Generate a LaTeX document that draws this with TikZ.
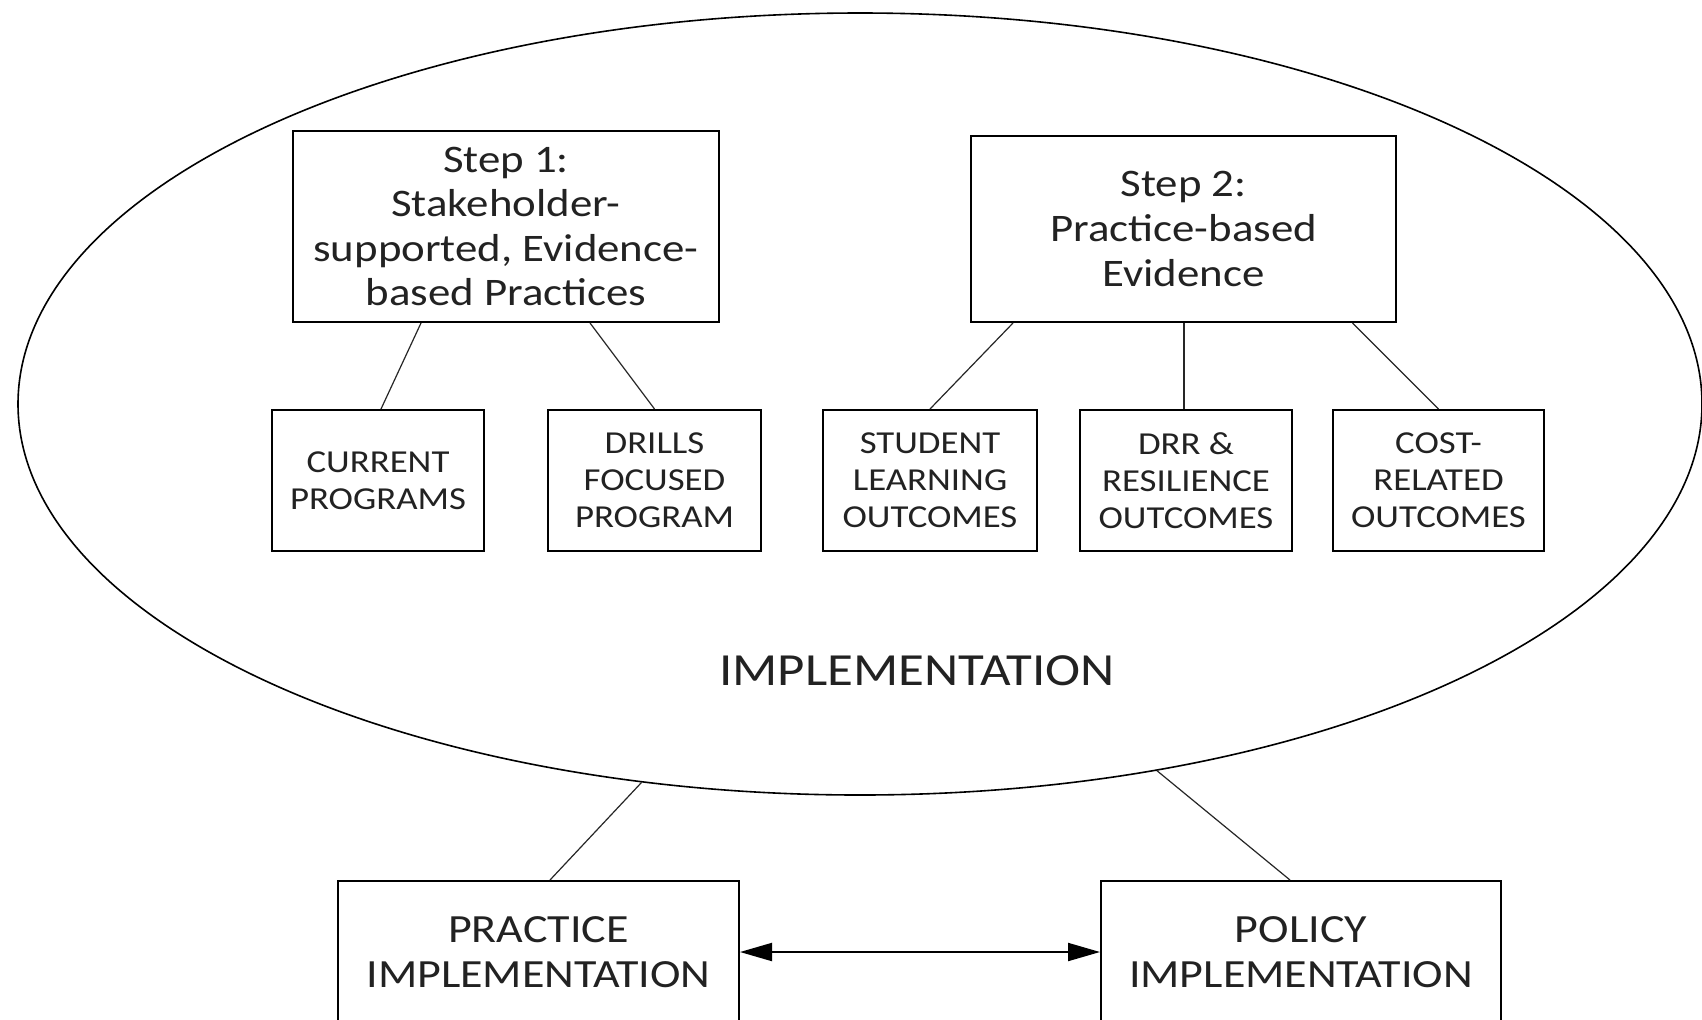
\documentclass[tikz,border=0pt]{standalone}
\usepackage{fontspec}
\setmainfont{Carlito}[FakeStretch=1.15]
\usetikzlibrary{shapes.geometric,arrows.meta}
\definecolor{txt}{HTML}{222222}
\tikzset{
  box/.style={draw=black, line width=1pt, align=center, text=txt, inner sep=0pt},
  stepbox/.style={box, font=\fontsize{19.5}{22.3}\selectfont},
  subbox/.style={box, font=\fontsize{16}{18.5}\selectfont, minimum height=70.5pt},
  botbox/.style={box, font=\fontsize{20}{22.3}\selectfont, minimum height=71pt},
  link/.style={draw=black!85, line width=0.6pt}
}
\begin{document}
\begin{tikzpicture}[x=0.5pt,y=-0.5pt]
\useasboundingbox (0,0) rectangle (1702,1019);
\clip (0,0) rectangle (1702,1019);
\fill[white] (0,0) rectangle (1702,1019);
\node[ellipse, draw=black, line width=0.8pt, minimum width=842pt, minimum height=391pt, inner sep=0pt] (ell) at (860,404) {};
\node[stepbox, minimum width=213pt, minimum height=95.5pt] (s1) at (506,226.5) {Step 1:\\Stakeholder-\\supported, Evidence-\\based Practices};
\node[stepbox, minimum width=212.5pt, minimum height=93pt] (s2) at (1183.5,229) {Step 2:\\Practice-based\\Evidence};
\node[subbox, minimum width=106pt] (cur) at (378,480.5) {CURRENT\\PROGRAMS};
\node[subbox, minimum width=106.5pt] (dri) at (654.5,480.5) {DRILLS\\FOCUSED\\PROGRAM};
\node[subbox, minimum width=107pt] (stu) at (930,480.5) {STUDENT\\LEARNING\\OUTCOMES};
\node[subbox, minimum width=106pt] (drr) at (1186,480.5) {DRR \&\\RESILIENCE\\OUTCOMES};
\node[subbox, minimum width=105.5pt] (cos) at (1438.5,480.5) {COST-\\RELATED\\OUTCOMES};
\node[text=txt, font=\fontsize{23}{26}\selectfont] (impl) at (917,671) {IMPLEMENTATION};
\node[botbox, minimum width=200.5pt] (pra) at (538.5,952) {PRACTICE\\IMPLEMENTATION};
\node[botbox, minimum width=200pt] (pol) at (1301,952) {POLICY\\IMPLEMENTATION};
\draw[link] ([xshift=-42.5pt]s1.south) -- ([xshift=1.5pt]cur.north);
\draw[link] ([xshift=42pt]s1.south) -- (dri.north);
\draw[link] ([xshift=-85.25pt]s2.south) -- (stu.north);
\draw[link] ([xshift=0.25pt]s2.south) -- ([xshift=-1pt]drr.north);
\draw[link] ([xshift=84.5pt]s2.south) -- (cos.north);
\draw[link] (ell.-120) -- ([xshift=5.75pt]pra.north);
\draw[link] (ell.-51) -- ([xshift=-5.5pt]pol.north);
\draw[line width=1pt, {Triangle[length=16pt,width=9pt]}-{Triangle[length=16pt,width=9pt]}] (pra.east) -- (pol.west);
\end{tikzpicture}
\end{document}
